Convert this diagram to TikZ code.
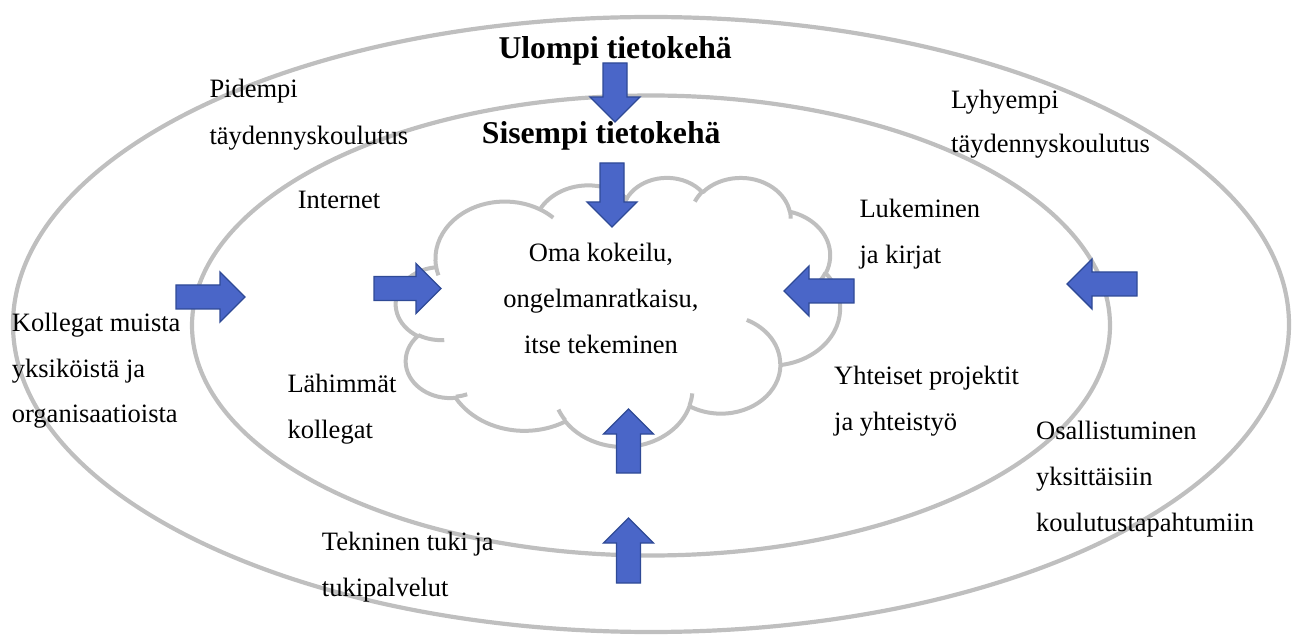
\documentclass[tikz,border=0pt]{standalone}
\usepackage{fontspec}
\setmainfont{Liberation Serif}
\usetikzlibrary{shapes.geometric}
\definecolor{ringgray}{RGB}{191,191,191}
\definecolor{arrowblue}{RGB}{74,102,200}
\definecolor{arrowedge}{RGB}{47,74,150}
\tikzset{
  ring/.style={draw=ringgray, line width=4.2pt, ellipse, inner sep=0pt},
  cloudline/.style={draw=ringgray, line width=4pt, line join=round},
  barrow/.style={fill=arrowblue, draw=arrowedge, line width=1.4pt, line join=miter},
  lbl/.style={inner sep=0pt, anchor=base west, align=left, font=\fontsize{26.5}{46}\selectfont},
  ttl/.style={inner sep=0pt, anchor=base west, font=\bfseries\fontsize{31.7}{38}\selectfont},
  pics/blockarrow/.style={code={%
    \draw[barrow] (0,-12) -- ({#1-25},-12) -- ({#1-25},-25) -- (#1,0)
      -- ({#1-25},25) -- ({#1-25},12) -- (0,12) -- cycle;}}
}
\begin{document}
\begin{tikzpicture}[x=1pt,y=-1pt]
\useasboundingbox (0,0) rectangle (1294,636);
% rings
\node[ring, minimum width=1276pt, minimum height=615pt] (outer) at (651,324.5) {};
\node[ring, minimum width=918pt, minimum height=460pt] (inner) at (651,325.5) {};
% cloud
\begin{scope}[shift={(396pt,-177pt)}, x=10.2778pt, y=-6.2269pt]
\draw[cloudline, fill=white] (3.9,14.37)
  arc[start angle=-187.75, delta angle=128.11, x radius=6.753, y radius=9.190]
  arc[start angle=-152.02, delta angle=106.57, x radius=5.333, y radius=7.267]
  arc[start angle=-153.49, delta angle=116.16, x radius=4.365, y radius=5.945]
  arc[start angle=-139.72, delta angle=129.50, x radius=4.857, y radius=6.595]
  arc[start angle=-74.77, delta angle=97.98, x radius=5.333, y radius=7.273]
  arc[start angle=-37.54, delta angle=119.40, x radius=6.775, y radius=9.220]
  arc[start angle=0.46, delta angle=121.52, x radius=5.785, y radius=7.867]
  arc[start angle=16.85, delta angle=129.38, x radius=6.752, y radius=9.215]
  arc[start angle=58.98, delta angle=91.21, x radius=7.720, y radius=10.543]
  arc[start angle=-276.69, delta angle=139.81, x radius=4.360, y radius=5.918]
  arc[start angle=-239.65, delta angle=143.76, x radius=4.345, y radius=5.945]
  -- cycle;
\draw[cloudline]
  (4.693,26.177) arc[start angle=85.55, delta angle=34.81, x radius=4.345, y radius=5.945]
  (6.928,34.899) arc[start angle=68.23, delta angle=15.08, x radius=4.360, y radius=5.918]
  (16.478,39.090) arc[start angle=146.23, delta angle=12.24, x radius=6.752, y radius=9.215]
  (28.827,34.751) arc[start angle=4.74, delta angle=12.11, x radius=6.752, y radius=9.215]
  (34.129,22.954) arc[start angle=-64.03, delta angle=64.49, x radius=5.785, y radius=7.867]
  (41.798,15.354) arc[start angle=23.21, delta angle=26.43, x radius=5.333, y radius=7.273]
  (38.324,5.426) arc[start angle=-10.22, delta angle=11.04, x radius=4.857, y radius=6.595]
  (29.078,3.952) arc[start angle=-156.30, delta angle=16.58, x radius=4.857, y radius=6.595]
  (22.141,4.720) arc[start angle=-167.72, delta angle=14.23, x radius=4.365, y radius=5.945]
  (14.000,5.192) arc[start angle=-59.64, delta angle=13.90, x radius=6.753, y radius=9.190]
  (4.127,15.789) arc[start angle=163.19, delta angle=9.06, x radius=6.753, y radius=9.190];
\end{scope}
% texts (multi-line nodes anchored at the baseline of their last line)
\node[ttl] (ulompi) at (498.3,58.3) {Ulompi tietokehä};
\node[ttl] (sisempi) at (481.7,143.3) {Sisempi tietokehä};
\node[lbl, font=\fontsize{26.5}{47.3}\selectfont] (pidempi) at (209.3,145) {Pidempi\\täydennyskoulutus};
\node[lbl, font=\fontsize{26.5}{43.5}\selectfont] (lyhyempi) at (951,152.3) {Lyhyempi\\täydennyskoulutus};
\node[lbl] (internet) at (297.7,208.3) {Internet};
\node[lbl] (lukeminen) at (859.3,263.3) {Lukeminen\\ja kirjat};
\node[lbl] (kollegat) at (11.7,423) {Kollegat muista\\yksiköistä ja\\organisaatioista};
\node[lbl] (lahimmat) at (287.3,438.3) {Lähimmät\\kollegat};
\node[lbl] (yhteiset) at (834,430) {Yhteiset projektit\\ja yhteistyö};
\node[lbl] (osall) at (1036,531) {Osallistuminen\\yksittäisiin\\koulutustapahtumiin};
\node[lbl] (tekninen) at (321.7,596.7) {Tekninen tuki ja\\tukipalvelut};
\node[lbl, align=center, anchor=base] (oma) at (601,353.3) {Oma kokeilu,\\ongelmanratkaisu,\\itse tekeminen};
% block arrows
\pic[rotate=-90] (a1) at (615,63) {blockarrow=59};
\pic[rotate=-90] (a2) at (612,163) {blockarrow=64};
\pic (a3) at (176,297) {blockarrow=69};
\pic (a4) at (374,288.5) {blockarrow=67};
\pic[rotate=180] (a5) at (854,291) {blockarrow=70};
\pic[rotate=180] (a6) at (1137,284) {blockarrow=70};
\pic[rotate=90] (a7) at (628.5,473) {blockarrow=64};
\pic[rotate=90] (a8) at (628.5,583) {blockarrow=65};
\end{tikzpicture}
\end{document}
